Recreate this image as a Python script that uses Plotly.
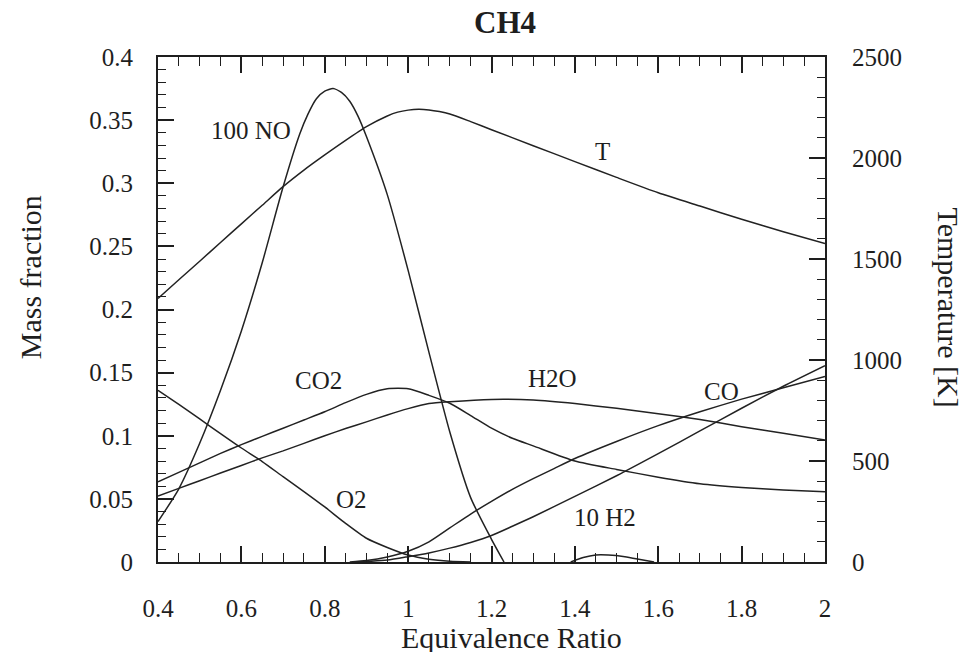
import plotly.graph_objects as go

# ---------------- data ----------------
phi_no = [0.40, 0.45, 0.50, 0.55, 0.60, 0.65, 0.70, 0.74, 0.76, 0.78, 0.80, 0.82, 0.84, 0.86, 0.88, 0.90, 0.95, 1.00, 1.05, 1.10, 1.15, 1.20, 1.23]
no_100 = [0.032, 0.058, 0.094, 0.136, 0.183, 0.237, 0.297, 0.339, 0.355, 0.367, 0.373, 0.375, 0.372, 0.365, 0.353, 0.337, 0.291, 0.231, 0.166, 0.103, 0.051, 0.018, 0.0]

phi_t = [0.40, 0.45, 0.50, 0.55, 0.60, 0.65, 0.70, 0.75, 0.80, 0.85, 0.90, 0.95, 0.975, 1.00, 1.025, 1.05, 1.075, 1.10, 1.15, 1.20, 1.30, 1.40, 1.50, 1.60, 1.70, 1.80, 1.90, 2.00]
temp = [1305, 1397, 1489, 1582, 1674, 1766, 1858, 1940, 2015, 2087, 2155, 2208, 2227, 2237, 2241, 2238, 2230, 2218, 2180, 2140, 2061, 1982, 1904, 1828, 1762, 1697, 1635, 1577]

phi_co2 = [0.40, 0.45, 0.50, 0.55, 0.60, 0.65, 0.70, 0.75, 0.80, 0.85, 0.90, 0.95, 1.00, 1.05, 1.10, 1.15, 1.20, 1.25, 1.30, 1.40, 1.50, 1.60, 1.70, 1.80, 1.90, 2.00]
co2 = [0.0636, 0.071, 0.0785, 0.086, 0.093, 0.0995, 0.106, 0.1125, 0.119, 0.1262, 0.1328, 0.1372, 0.1372, 0.132, 0.1257, 0.116, 0.106, 0.098, 0.092, 0.080, 0.0733, 0.0672, 0.062, 0.059, 0.057, 0.0557]

phi_h2o = [0.40, 0.45, 0.50, 0.55, 0.60, 0.65, 0.70, 0.75, 0.80, 0.85, 0.90, 0.95, 1.00, 1.05, 1.10, 1.20, 1.30, 1.40, 1.50, 1.60, 1.70, 1.80, 1.90, 2.00]
h2o = [0.0523, 0.0583, 0.0644, 0.0705, 0.0765, 0.0825, 0.088, 0.094, 0.100, 0.1057, 0.111, 0.1165, 0.1215, 0.1255, 0.127, 0.1288, 0.1283, 0.1255, 0.1217, 0.1175, 0.1128, 0.1072, 0.102, 0.0966]

phi_o2 = [0.40, 0.45, 0.50, 0.55, 0.60, 0.65, 0.70, 0.75, 0.80, 0.85, 0.90, 0.95, 1.00, 1.05, 1.10, 1.15]
o2 = [0.136, 0.1248, 0.1133, 0.1017, 0.0903, 0.0796, 0.0676, 0.0558, 0.0436, 0.0306, 0.0188, 0.0115, 0.0055, 0.0022, 0.0006, 0.0]

phi_co = [0.86, 0.90, 0.95, 1.00, 1.05, 1.10, 1.15, 1.20, 1.25, 1.30, 1.35, 1.40, 1.50, 1.60, 1.70, 1.80, 1.90, 2.00]
co = [0.0, 0.0012, 0.004, 0.0085, 0.016, 0.027, 0.038, 0.048, 0.0575, 0.066, 0.074, 0.082, 0.0955, 0.108, 0.119, 0.129, 0.138, 0.147]

phi_h2 = [0.88, 0.95, 1.00, 1.05, 1.10, 1.15, 1.20, 1.25, 1.30, 1.40, 1.50, 1.60, 1.70, 1.80, 1.90, 2.00]
h2_10 = [0.0, 0.0015, 0.0042, 0.0072, 0.011, 0.0155, 0.021, 0.0283, 0.0358, 0.052, 0.0683, 0.0858, 0.1038, 0.1218, 0.1392, 0.1555]

phi_minor = [1.39, 1.42, 1.45, 1.48, 1.52, 1.56, 1.59]
minor_sp = [0.0, 0.0035, 0.0055, 0.0055, 0.0042, 0.0018, 0.0]

x_ticks = [0.4, 0.6, 0.8, 1.0, 1.2, 1.4, 1.6, 1.8, 2.0]
x_ticktext = ["0.4", "0.6", "0.8", "1", "1.2", "1.4", "1.6", "1.8", "2"]
y_ticks = [0, 0.05, 0.1, 0.15, 0.2, 0.25, 0.3, 0.35, 0.4]
y_ticktext = ["0", "0.05", "0.1", "0.15", "0.2", "0.25", "0.3", "0.35", "0.4"]
t_ticks = [0, 500, 1000, 1500, 2000, 2500]
t_ticktext = ["0", "500", "1000", "1500", "2000", "2500"]

# curve labels: (text, phi, mass fraction)
curve_labels = [
    ("100 NO", 0.623, 0.3414),
    ("T", 1.466, 0.3255),
    ("CO2", 0.786, 0.1434),
    ("O2", 0.863, 0.0495),
    ("H2O", 1.346, 0.145),
    ("CO", 1.752, 0.1349),
    ("10 H2", 1.472, 0.0352),
]

# ---------------- figure ----------------
FONT = "Liberation Serif, Times New Roman, serif"
INK = "#1e1e1e"
LINE = dict(color="#222222", width=1.5, shape="spline", smoothing=0.6)

fig = go.Figure()
for xs, ys in [(phi_no, no_100), (phi_co2, co2), (phi_h2o, h2o), (phi_o2, o2),
               (phi_co, co), (phi_h2, h2_10), (phi_minor, minor_sp)]:
    fig.add_trace(go.Scatter(x=xs, y=ys, mode="lines", line=LINE, showlegend=False,
                             hoverinfo="skip", cliponaxis=True))
fig.add_trace(go.Scatter(x=phi_t, y=temp, mode="lines", line=LINE, yaxis="y2",
                         showlegend=False, hoverinfo="skip"))

axis_common = dict(showline=True, linewidth=2, linecolor=INK, showgrid=False, zeroline=False,
                   ticks="inside", tickcolor=INK, tickwidth=1.5,
                   tickfont=dict(family=FONT, size=25, color=INK))

fig.update_layout(
    width=973, height=653,
    margin=dict(l=158, r=148, t=57, b=91),
    paper_bgcolor="white", plot_bgcolor="white",
    xaxis=dict(range=[0.4, 2.0], tickvals=x_ticks, ticktext=x_ticktext, ticklen=16,
               minor=dict(dtick=0.05, tick0=0.4, ticks="inside", ticklen=9, tickwidth=1.2, tickcolor=INK),
               mirror="ticks", ticklabelstandoff=23, **axis_common),
    yaxis=dict(range=[0, 0.4], tickvals=y_ticks, ticktext=y_ticktext, ticklen=16,
               minor=dict(dtick=0.01, tick0=0, ticks="inside", ticklen=8, tickwidth=1.2, tickcolor=INK),
               mirror=False, ticklabelstandoff=18, **axis_common),
    yaxis2=dict(range=[0, 2500], tickvals=t_ticks, ticktext=t_ticktext, ticklen=16,
                minor=dict(dtick=100, tick0=0, ticks="inside", ticklen=8, tickwidth=1.2, tickcolor=INK),
                overlaying="y", side="right", anchor="x", ticklabelstandoff=20, **axis_common),
)

for text, px_, py_ in curve_labels:
    fig.add_annotation(x=px_, y=py_, xref="x", yref="y", text=text, showarrow=False,
                       font=dict(family=FONT, size=25, color=INK), xanchor="center", yanchor="middle")

fig.add_annotation(x=0.52, y=1.069, xref="paper", yref="paper", text="<b>CH4</b>", showarrow=False,
                   font=dict(family=FONT, size=31, color=INK), xanchor="center", yanchor="middle")
fig.add_annotation(x=0.53, y=-0.149, xref="paper", yref="paper", text="Equivalence Ratio", showarrow=False,
                   height=30, font=dict(family=FONT, size=30, color=INK), xanchor="center", yanchor="middle")
fig.add_annotation(x=-0.19, y=0.5644, xref="paper", yref="paper", text="Mass fraction", showarrow=False,
                   textangle=-90, font=dict(family=FONT, size=30, color=INK), xanchor="center", yanchor="middle")
fig.add_annotation(x=1.1837, y=0.505, xref="paper", yref="paper", text="Temperature [K]", showarrow=False,
                   textangle=90, font=dict(family=FONT, size=30, color=INK), xanchor="center", yanchor="middle")

fig.write_html("out.html", config={"displayModeBar": False},
               post_script="document.body.style.margin='0';document.body.style.overflow='hidden';")
